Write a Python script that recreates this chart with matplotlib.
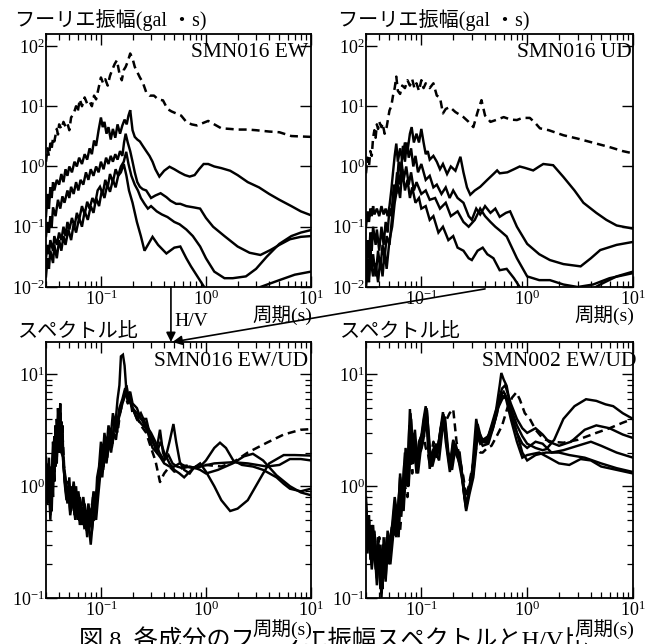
import matplotlib
matplotlib.use("Agg")
import matplotlib.pyplot as plt
from matplotlib.ticker import LogLocator, NullLocator, NullFormatter
from matplotlib.patches import ConnectionPatch

plt.rcParams['font.family'] = ['Liberation Serif', 'Noto Sans CJK JP']
plt.rcParams['mathtext.fontset'] = 'custom'
plt.rcParams['mathtext.rm'] = 'Liberation Serif'
plt.rcParams['mathtext.it'] = 'Liberation Serif:italic'
plt.rcParams['mathtext.bf'] = 'Liberation Serif:bold'
plt.rcParams['axes.unicode_minus'] = False

# ---------------- data: (period [s], value) ----------------
# SMN016 EW Fourier amplitude (gal*s)
tl_dash = [(0.030, 1.2), (0.031, 2.0), (0.032, 1.5), (0.033, 2.4), (0.034, 2.0), (0.035, 3.0), (0.036, 2.6),
           (0.038, 4.2), (0.039, 3.4), (0.040, 5.0), (0.042, 4.2), (0.044, 5.5), (0.046, 4.6), (0.048, 5.2),
           (0.050, 4.0), (0.052, 6.5), (0.055, 7.5), (0.058, 10), (0.060, 8), (0.063, 13), (0.066, 10),
           (0.070, 14), (0.074, 11), (0.078, 12), (0.082, 10), (0.086, 15), (0.090, 13), (0.095, 20),
           (0.100, 30), (0.105, 24), (0.110, 28), (0.116, 22), (0.122, 32), (0.128, 40), (0.135, 50),
           (0.142, 58), (0.150, 35), (0.158, 27), (0.165, 40), (0.172, 45), (0.180, 55), (0.190, 75),
           (0.200, 62), (0.210, 45), (0.220, 38), (0.235, 30), (0.250, 25), (0.270, 17), (0.290, 15),
           (0.320, 15), (0.350, 13), (0.390, 12.5), (0.430, 9), (0.470, 8.2), (0.520, 7.6), (0.580, 7.0),
           (0.650, 5.5), (0.730, 5.0), (0.820, 4.8), (0.920, 5.2), (1.05, 5.7), (1.2, 5.0), (1.4, 4.3),
           (1.7, 4.2), (2.0, 4.1), (2.5, 4.1), (3.0, 4.0), (4.0, 3.8), (5.0, 3.7), (6.5, 3.2), (8.0, 3.15),
           (10.0, 3.1)]
tl_s1 = [(0.030, 0.15), (0.031, 0.35), (0.032, 0.2), (0.033, 0.45), (0.034, 0.3), (0.035, 0.55), (0.036, 0.4),
         (0.038, 0.6), (0.040, 0.5), (0.042, 0.75), (0.044, 0.55), (0.046, 0.9), (0.048, 0.7), (0.050, 1.0),
         (0.053, 0.8), (0.056, 1.2), (0.059, 1.0), (0.062, 1.4), (0.066, 1.1), (0.070, 1.6), (0.074, 1.3),
         (0.078, 2.0), (0.082, 1.6), (0.086, 2.7), (0.090, 2.2), (0.095, 4.0), (0.100, 6.5), (0.104, 4.5),
         (0.108, 5.5), (0.113, 3.5), (0.118, 4.5), (0.124, 2.8), (0.130, 4.2), (0.137, 3.0), (0.144, 5.0),
         (0.152, 3.5), (0.160, 4.8), (0.168, 6.0), (0.176, 5.0), (0.183, 7.0), (0.190, 8.6), (0.200, 4.0),
         (0.210, 3.1), (0.222, 2.8), (0.235, 2.6), (0.25, 2.2), (0.27, 1.8), (0.29, 1.5), (0.31, 1.2),
         (0.33, 0.9), (0.36, 0.68), (0.40, 0.85), (0.45, 0.99), (0.50, 0.9), (0.56, 0.8), (0.63, 0.72),
         (0.70, 0.68), (0.78, 0.72), (0.86, 0.9), (0.95, 1.1), (1.05, 1.1), (1.2, 1.0), (1.4, 0.94),
         (1.7, 0.85), (2.0, 0.72), (2.5, 0.55), (3.2, 0.45), (4.0, 0.35), (5.0, 0.28), (6.5, 0.22),
         (8.0, 0.18), (10.0, 0.155)]
tl_s2 = [(0.030, 0.07), (0.031, 0.12), (0.032, 0.08), (0.033, 0.15), (0.034, 0.1), (0.035, 0.21), (0.037, 0.15),
         (0.039, 0.28), (0.041, 0.2), (0.043, 0.32), (0.045, 0.25), (0.048, 0.4), (0.050, 0.3), (0.052, 0.46),
         (0.055, 0.35), (0.058, 0.55), (0.061, 0.4), (0.064, 0.6), (0.068, 0.5), (0.072, 0.8), (0.076, 0.6),
         (0.080, 0.9), (0.085, 0.7), (0.090, 1.0), (0.095, 0.8), (0.100, 1.2), (0.106, 0.9), (0.112, 1.4),
         (0.118, 1.1), (0.124, 1.5), (0.130, 1.2), (0.137, 1.6), (0.144, 1.3), (0.152, 1.8), (0.160, 1.5),
         (0.166, 2.5), (0.172, 3.5), (0.180, 2.5), (0.190, 1.8), (0.200, 1.2), (0.210, 0.8), (0.222, 0.55),
         (0.235, 0.46), (0.25, 0.42), (0.27, 0.4), (0.30, 0.3), (0.33, 0.33), (0.37, 0.36), (0.42, 0.31),
         (0.46, 0.27), (0.52, 0.24), (0.57, 0.24), (0.65, 0.22), (0.76, 0.21), (0.88, 0.2), (1.0, 0.14),
         (1.17, 0.1), (1.5, 0.07), (2.0, 0.047), (2.6, 0.037), (3.3, 0.034), (4.1, 0.041), (5.0, 0.05),
         (6.3, 0.062), (8.0, 0.068), (10.0, 0.07)]
tl_s3 = [(0.030, 0.03), (0.031, 0.05), (0.032, 0.035), (0.033, 0.06), (0.035, 0.04), (0.036, 0.07),
         (0.038, 0.05), (0.040, 0.08), (0.042, 0.06), (0.044, 0.1), (0.046, 0.07), (0.048, 0.12), (0.050, 0.09),
         (0.053, 0.14), (0.056, 0.1), (0.059, 0.17), (0.062, 0.13), (0.066, 0.22), (0.070, 0.16), (0.074, 0.26),
         (0.078, 0.2), (0.083, 0.3), (0.088, 0.24), (0.093, 0.4), (0.098, 0.46), (0.104, 0.35), (0.110, 0.6),
         (0.116, 0.45), (0.122, 0.75), (0.130, 0.55), (0.138, 0.9), (0.146, 0.7), (0.155, 1.0), (0.165, 1.2),
         (0.174, 1.75), (0.183, 1.1), (0.195, 0.7), (0.21, 0.5), (0.225, 0.4), (0.24, 0.3), (0.26, 0.24),
         (0.28, 0.2), (0.30, 0.22), (0.34, 0.18), (0.38, 0.16), (0.43, 0.145), (0.50, 0.12), (0.56, 0.11),
         (0.65, 0.09), (0.75, 0.07), (0.88, 0.047), (1.0, 0.03), (1.2, 0.018), (1.5, 0.014), (1.8, 0.014),
         (2.4, 0.015), (3.0, 0.02), (3.8, 0.032), (5.0, 0.052), (6.5, 0.07), (8.0, 0.08), (10.0, 0.088)]
tl_s4 = [(0.030, 0.015), (0.031, 0.03), (0.032, 0.02), (0.033, 0.04), (0.035, 0.025), (0.036, 0.05),
         (0.038, 0.03), (0.040, 0.06), (0.042, 0.04), (0.044, 0.07), (0.046, 0.05), (0.049, 0.09), (0.052, 0.06),
         (0.055, 0.11), (0.058, 0.08), (0.062, 0.14), (0.066, 0.1), (0.070, 0.18), (0.075, 0.13), (0.080, 0.22),
         (0.085, 0.17), (0.090, 0.3), (0.096, 0.22), (0.102, 0.4), (0.108, 0.3), (0.115, 0.5), (0.122, 0.38),
         (0.130, 0.6), (0.138, 0.45), (0.146, 0.7), (0.155, 0.8), (0.165, 1.1), (0.175, 0.7), (0.185, 0.4),
         (0.20, 0.25), (0.22, 0.12), (0.24, 0.07), (0.26, 0.04), (0.28, 0.05), (0.31, 0.068), (0.35, 0.05),
         (0.42, 0.036), (0.50, 0.045), (0.57, 0.047), (0.65, 0.03), (0.72, 0.022), (0.85, 0.014), (1.0, 0.009),
         (1.2, 0.006), (2.0, 0.005), (3.0, 0.008), (3.3, 0.01), (5.0, 0.013), (7.0, 0.016), (10.0, 0.018)]

# SMN016 UD Fourier amplitude (gal*s)
tr_dash = [(0.030, 0.77), (0.031, 1.4), (0.032, 1.0), (0.033, 1.8), (0.034, 1.5), (0.035, 3.0), (0.036, 4.0),
           (0.037, 3.0), (0.038, 5.0), (0.039, 4.2), (0.040, 5.5), (0.042, 4.5), (0.043, 5.2), (0.045, 3.5),
           (0.047, 4.5), (0.050, 8.5), (0.052, 10), (0.054, 15), (0.056, 20), (0.058, 31), (0.060, 18),
           (0.063, 16), (0.066, 22), (0.070, 20), (0.074, 27), (0.078, 22), (0.082, 28), (0.086, 20), (0.090, 24),
           (0.095, 18), (0.100, 27), (0.105, 20), (0.110, 24), (0.120, 20), (0.130, 24), (0.140, 15), (0.150, 14),
           (0.160, 7.6), (0.170, 9), (0.186, 9.7), (0.21, 8), (0.25, 6.6), (0.28, 5.5), (0.31, 4.5), (0.34, 8),
           (0.37, 12.6), (0.40, 7), (0.45, 5.5), (0.52, 6), (0.60, 6.6), (0.70, 6), (0.80, 5.9), (0.90, 6.4),
           (1.06, 6.4), (1.2, 5.2), (1.32, 4.3), (1.6, 4.0), (2.2, 3.3), (3.0, 2.9), (4.5, 2.4), (6.0, 2.1),
           (8.0, 1.8), (10.0, 1.65)]
tr_s1 = [(0.030, 0.1), (0.031, 0.18), (0.032, 0.12), (0.033, 0.2), (0.034, 0.15), (0.035, 0.22), (0.036, 0.16),
         (0.038, 0.2), (0.040, 0.15), (0.042, 0.22), (0.044, 0.16), (0.046, 0.2), (0.048, 0.15), (0.050, 0.22),
         (0.052, 0.4), (0.054, 0.8), (0.056, 1.5), (0.058, 2.4), (0.060, 1.2), (0.063, 2.0), (0.066, 1.3),
         (0.070, 2.5), (0.074, 1.8), (0.078, 3.5), (0.081, 4.5), (0.085, 2.5), (0.090, 3.5), (0.095, 2.5),
         (0.100, 4.2), (0.105, 2.5), (0.110, 1.6), (0.115, 1.8), (0.120, 1.3), (0.130, 1.5), (0.140, 1.2),
         (0.150, 0.9), (0.160, 1.1), (0.175, 0.75), (0.19, 1.0), (0.21, 0.85), (0.234, 1.45), (0.25, 0.8),
         (0.27, 0.45), (0.29, 0.34), (0.32, 0.4), (0.36, 0.46), (0.42, 0.6), (0.48, 0.75), (0.52, 0.86),
         (0.55, 0.77), (0.65, 0.8), (0.75, 0.9), (0.85, 1.0), (0.95, 0.95), (1.14, 0.86), (1.3, 1.0),
         (1.42, 1.1), (1.76, 1.05), (2.2, 0.67), (2.8, 0.4), (3.4, 0.25), (4.5, 0.17), (5.6, 0.13),
         (7.0, 0.105), (10.0, 0.093)]
tr_s2 = [(0.030, 0.02), (0.031, 0.06), (0.032, 0.03), (0.033, 0.08), (0.034, 0.04), (0.035, 0.1), (0.037, 0.05),
         (0.038, 0.09), (0.040, 0.04), (0.042, 0.1), (0.044, 0.05), (0.046, 0.12), (0.048, 0.08), (0.050, 0.2),
         (0.052, 0.15), (0.055, 0.5), (0.058, 0.35), (0.061, 1.2), (0.064, 0.8), (0.067, 2.2), (0.070, 1.2),
         (0.073, 2.5), (0.076, 1.4), (0.080, 2.0), (0.084, 1.0), (0.088, 1.5), (0.093, 0.8), (0.100, 1.1),
         (0.110, 0.6), (0.120, 0.7), (0.130, 0.45), (0.140, 0.5), (0.155, 0.35), (0.170, 0.45), (0.185, 0.3),
         (0.20, 0.4), (0.22, 0.3), (0.25, 0.25), (0.28, 0.15), (0.30, 0.13), (0.33, 0.2), (0.36, 0.16),
         (0.40, 0.22), (0.45, 0.17), (0.50, 0.2), (0.55, 0.146), (0.63, 0.17), (0.69, 0.18), (0.80, 0.1),
         (1.0, 0.052), (1.3, 0.035), (1.64, 0.028), (2.2, 0.024), (3.2, 0.022), (4.0, 0.03), (4.9, 0.041),
         (7.0, 0.05), (10.0, 0.056)]
tr_s3 = [(0.030, 0.012), (0.031, 0.03), (0.032, 0.015), (0.033, 0.04), (0.034, 0.02), (0.035, 0.035),
         (0.037, 0.015), (0.039, 0.04), (0.041, 0.02), (0.043, 0.05), (0.045, 0.03), (0.047, 0.07), (0.050, 0.05),
         (0.053, 0.15), (0.056, 0.3), (0.059, 0.8), (0.062, 0.5), (0.065, 1.2), (0.068, 0.6), (0.072, 1.0),
         (0.076, 0.5), (0.080, 0.8), (0.085, 0.4), (0.090, 0.55), (0.100, 0.35), (0.110, 0.4), (0.120, 0.28),
         (0.135, 0.3), (0.150, 0.2), (0.170, 0.25), (0.19, 0.15), (0.22, 0.18), (0.25, 0.12), (0.28, 0.1),
         (0.32, 0.13), (0.36, 0.2), (0.40, 0.15), (0.45, 0.12), (0.50, 0.1), (0.55, 0.087), (0.64, 0.069),
         (0.80, 0.03), (1.0, 0.015), (1.3, 0.013), (1.64, 0.013), (2.2, 0.011), (3.0, 0.01), (4.2, 0.011),
         (6.0, 0.014), (10.0, 0.017)]
tr_s4 = [(0.030, 0.01), (0.031, 0.02), (0.032, 0.012), (0.033, 0.03), (0.035, 0.015), (0.037, 0.025),
         (0.039, 0.012), (0.041, 0.03), (0.043, 0.015), (0.045, 0.04), (0.047, 0.02), (0.050, 0.06), (0.053, 0.1),
         (0.056, 0.25), (0.060, 0.5), (0.063, 0.3), (0.066, 0.9), (0.070, 0.4), (0.074, 0.6), (0.078, 0.3),
         (0.082, 0.45), (0.088, 0.25), (0.095, 0.3), (0.100, 0.2), (0.110, 0.22), (0.120, 0.13), (0.130, 0.15),
         (0.145, 0.08), (0.160, 0.1), (0.180, 0.06), (0.20, 0.07), (0.22, 0.045), (0.25, 0.04), (0.28, 0.03),
         (0.30, 0.028), (0.34, 0.04), (0.38, 0.045), (0.42, 0.035), (0.48, 0.03), (0.55, 0.019), (0.64, 0.02),
         (0.75, 0.014), (0.85, 0.01), (1.0, 0.008), (2.0, 0.006), (4.0, 0.009), (4.9, 0.011), (7.0, 0.015),
         (10.0, 0.018)]

# SMN016 EW/UD spectral ratio
bl_dash = [(0.030, 1.4), (0.031, 0.8), (0.032, 1.6), (0.033, 0.7), (0.034, 1.3), (0.035, 2.0), (0.036, 1.2),
           (0.037, 3.0), (0.038, 1.8), (0.039, 4.0), (0.040, 2.6), (0.041, 4.8), (0.042, 2.2), (0.043, 3.0),
           (0.045, 1.3), (0.047, 0.9), (0.049, 1.1), (0.051, 0.6), (0.053, 0.9), (0.056, 0.6), (0.059, 0.8),
           (0.062, 0.5), (0.066, 0.7), (0.070, 0.4), (0.074, 0.6), (0.078, 0.45), (0.082, 0.7), (0.086, 0.5),
           (0.090, 0.8), (0.095, 1.1), (0.100, 2.0), (0.105, 1.5), (0.110, 2.6), (0.116, 2.0), (0.122, 3.0),
           (0.129, 2.4), (0.136, 3.8), (0.144, 3.0), (0.152, 4.5), (0.160, 5.5), (0.170, 6.5), (0.180, 5.5),
           (0.19, 6.0), (0.20, 4.5), (0.22, 4.2), (0.24, 3.5), (0.27, 3.0), (0.30, 2.2), (0.33, 1.7),
           (0.365, 1.09), (0.40, 1.3), (0.45, 1.5), (0.50, 1.35), (0.55, 1.4), (0.65, 1.53), (0.8, 1.45),
           (1.0, 1.55), (1.4, 1.5), (1.82, 1.64), (2.5, 2.0), (3.8, 2.45), (5.5, 2.9), (8.0, 3.2), (10.0, 3.24)]
bl_s1 = [(0.030, 1.8), (0.031, 1.0), (0.032, 1.5), (0.033, 0.55), (0.034, 1.2), (0.035, 2.5), (0.036, 1.5),
         (0.037, 3.5), (0.038, 2.0), (0.039, 5.0), (0.040, 3.0), (0.041, 5.5), (0.042, 2.5), (0.043, 3.5),
         (0.044, 1.5), (0.046, 1.0), (0.048, 0.7), (0.050, 1.2), (0.052, 0.6), (0.054, 0.9), (0.056, 0.55),
         (0.058, 1.0), (0.060, 0.6), (0.063, 0.8), (0.066, 0.5), (0.070, 0.7), (0.073, 0.4), (0.076, 0.65),
         (0.080, 0.45), (0.084, 0.8), (0.088, 0.55), (0.092, 1.2), (0.096, 1.5), (0.100, 2.5), (0.104, 1.8),
         (0.108, 3.0), (0.113, 2.2), (0.118, 3.5), (0.124, 2.8), (0.130, 4.5), (0.137, 3.5), (0.144, 6.0),
         (0.150, 8.0), (0.155, 14.5), (0.162, 15.0), (0.168, 12), (0.175, 7), (0.185, 6), (0.20, 5),
         (0.22, 4.5), (0.25, 3.8), (0.28, 3.0), (0.31, 2.2), (0.34, 2.0), (0.37, 2.5), (0.40, 2.0), (0.45, 1.6),
         (0.50, 1.4), (0.56, 1.3), (0.62, 1.2), (0.70, 1.35), (0.80, 1.5), (0.88, 1.5), (1.0, 1.7), (1.2, 2.2),
         (1.36, 2.45), (1.55, 2.2), (1.82, 1.7), (2.2, 1.55), (2.8, 1.5), (3.5, 1.4), (4.7, 1.2), (5.5, 1.05),
         (6.3, 0.95), (8.0, 0.9), (10.0, 0.95)]
bl_s2 = [(0.030, 1.2), (0.031, 0.7), (0.032, 1.8), (0.033, 0.9), (0.034, 1.5), (0.035, 0.8), (0.036, 2.2),
         (0.037, 1.5), (0.038, 4.0), (0.039, 2.5), (0.040, 4.5), (0.041, 3.0), (0.042, 3.8), (0.043, 2.0),
         (0.045, 1.2), (0.047, 0.8), (0.049, 1.0), (0.051, 0.65), (0.053, 1.0), (0.055, 0.7), (0.057, 0.85),
         (0.060, 0.5), (0.063, 0.7), (0.066, 0.45), (0.070, 0.6), (0.074, 0.35), (0.078, 0.55), (0.082, 0.4),
         (0.086, 0.6), (0.090, 0.5), (0.094, 0.8), (0.098, 1.2), (0.102, 2.0), (0.106, 1.5), (0.110, 2.5),
         (0.116, 2.0), (0.122, 3.2), (0.128, 2.5), (0.135, 4.0), (0.142, 3.5), (0.150, 5.0), (0.160, 6.0),
         (0.170, 7.5), (0.180, 6.5), (0.190, 7.0), (0.20, 5.5), (0.22, 5.0), (0.24, 4.0), (0.27, 4.0),
         (0.29, 3.0), (0.31, 2.5), (0.34, 2.15), (0.365, 3.2), (0.39, 2.0), (0.41, 1.75), (0.45, 2.5),
         (0.49, 3.6), (0.52, 2.5), (0.565, 1.64), (0.62, 1.4), (0.70, 1.3), (0.76, 1.45), (0.88, 1.6),
         (1.0, 1.35), (1.2, 1.0), (1.4, 0.75), (1.7, 0.6), (2.0, 0.63), (2.5, 0.75), (3.5, 1.3), (4.0, 1.6),
         (5.5, 1.9), (7.0, 1.9), (10.0, 1.88)]
bl_s3 = [(0.030, 1.0), (0.031, 1.6), (0.032, 0.8), (0.033, 1.3), (0.034, 0.6), (0.035, 1.6), (0.036, 2.8),
         (0.037, 1.8), (0.038, 3.2), (0.039, 2.2), (0.040, 4.0), (0.041, 2.4), (0.043, 2.8), (0.044, 1.6),
         (0.046, 1.2), (0.048, 0.8), (0.050, 1.0), (0.052, 0.7), (0.055, 1.1), (0.058, 0.7), (0.061, 0.9),
         (0.064, 0.6), (0.068, 0.8), (0.072, 0.5), (0.076, 0.7), (0.080, 0.5), (0.085, 0.9), (0.090, 0.7),
         (0.095, 1.3), (0.100, 1.8), (0.105, 1.4), (0.110, 2.2), (0.115, 1.8), (0.121, 2.8), (0.127, 2.2),
         (0.134, 3.5), (0.141, 3.0), (0.149, 4.2), (0.158, 5.2), (0.166, 6.5), (0.175, 8.0), (0.185, 6.0),
         (0.20, 5.0), (0.22, 4.0), (0.24, 4.5), (0.27, 3.5), (0.30, 3.0), (0.33, 2.5), (0.36, 2.0), (0.40, 1.7),
         (0.44, 1.9), (0.48, 1.6), (0.53, 1.5), (0.60, 1.45), (0.70, 1.5), (0.80, 1.45), (0.88, 1.4),
         (1.0, 1.3), (1.3, 1.4), (1.8, 1.6), (2.3, 1.85), (2.8, 1.95), (3.5, 1.7), (4.7, 1.25), (6.3, 1.0),
         (8.0, 0.88), (10.0, 0.83)]
bl_s4 = [(0.030, 1.5), (0.031, 0.9), (0.032, 1.2), (0.033, 0.5), (0.034, 1.0), (0.035, 1.8), (0.036, 1.1),
         (0.037, 2.6), (0.038, 1.6), (0.039, 3.5), (0.040, 2.0), (0.041, 3.8), (0.042, 2.0), (0.044, 1.8),
         (0.045, 1.1), (0.047, 0.75), (0.049, 0.9), (0.051, 0.55), (0.054, 0.8), (0.057, 0.5), (0.060, 0.75),
         (0.063, 0.45), (0.067, 0.65), (0.071, 0.42), (0.075, 0.55), (0.080, 0.3), (0.084, 0.5), (0.088, 0.7),
         (0.093, 1.0), (0.098, 1.6), (0.103, 1.2), (0.108, 2.0), (0.113, 1.6), (0.119, 2.5), (0.125, 2.0),
         (0.132, 3.0), (0.139, 2.6), (0.147, 4.0), (0.155, 5.0), (0.163, 6.0), (0.172, 7.0), (0.182, 5.5),
         (0.19, 6.5), (0.20, 5.0), (0.22, 4.0), (0.25, 3.5), (0.28, 3.2), (0.31, 2.6), (0.34, 2.0), (0.37, 1.8),
         (0.40, 1.6), (0.45, 1.5), (0.50, 1.5), (0.56, 1.6), (0.65, 1.5), (0.75, 1.45), (0.88, 1.5),
         (1.2, 1.6), (1.82, 1.64), (2.5, 1.6), (3.8, 1.5), (5.0, 1.55), (6.3, 1.75), (8.0, 1.75), (10.0, 1.7)]

# SMN002 EW/UD spectral ratio
br_dash = [(0.030, 0.6), (0.031, 0.35), (0.032, 0.5), (0.034, 0.25), (0.036, 0.4), (0.038, 0.2), (0.040, 0.35),
           (0.042, 0.2), (0.044, 0.3), (0.046, 0.2), (0.048, 0.35), (0.050, 0.3), (0.053, 0.45), (0.056, 0.35),
           (0.060, 0.5), (0.063, 0.4), (0.066, 0.7), (0.070, 1.0), (0.074, 0.8), (0.078, 2.0), (0.082, 1.3),
           (0.086, 2.5), (0.090, 1.5), (0.095, 2.2), (0.100, 2.5), (0.105, 3.0), (0.110, 2.2), (0.115, 2.0),
           (0.120, 1.6), (0.130, 2.5), (0.140, 2.0), (0.150, 2.8), (0.160, 3.2), (0.170, 3.8), (0.185, 4.5),
           (0.20, 4.9), (0.215, 2.5), (0.23, 1.8), (0.25, 1.2), (0.265, 0.8), (0.28, 1.0), (0.30, 1.4),
           (0.33, 2.2), (0.36, 2.0), (0.38, 2.0), (0.42, 2.2), (0.46, 2.3), (0.515, 2.8), (0.58, 3.5),
           (0.65, 5.0), (0.72, 6.2), (0.79, 6.9), (0.85, 6.0), (0.95, 4.5), (1.06, 4.0), (1.2, 3.2),
           (1.42, 2.65), (1.7, 2.5), (2.2, 2.45), (3.0, 2.6), (4.5, 3.0), (6.0, 3.3), (8.0, 3.7), (10.0, 4.0)]
br_s1 = [(0.030, 0.8), (0.031, 0.4), (0.032, 0.5), (0.033, 0.3), (0.034, 0.45), (0.035, 0.25), (0.036, 0.4),
         (0.038, 0.2), (0.040, 0.3), (0.042, 0.15), (0.043, 0.12), (0.044, 0.35), (0.046, 0.2), (0.048, 0.4),
         (0.050, 0.3), (0.053, 0.45), (0.056, 0.8), (0.060, 0.5), (0.063, 1.3), (0.066, 0.8), (0.070, 2.0),
         (0.074, 1.2), (0.078, 4.9), (0.082, 2.0), (0.086, 3.0), (0.090, 1.5), (0.095, 2.5), (0.100, 2.8),
         (0.105, 4.0), (0.110, 5.2), (0.115, 2.5), (0.120, 1.43), (0.130, 2.15), (0.140, 1.8), (0.150, 3.0),
         (0.160, 4.6), (0.170, 2.5), (0.186, 1.34), (0.20, 2.5), (0.215, 2.0), (0.23, 2.0), (0.25, 1.0),
         (0.265, 0.63), (0.28, 0.9), (0.30, 1.26), (0.33, 4.0), (0.36, 2.5), (0.41, 2.45), (0.46, 3.5),
         (0.51, 4.9), (0.55, 8.0), (0.57, 10.3), (0.60, 9.0), (0.64, 7.9), (0.70, 5.0), (0.80, 3.5),
         (0.90, 2.8), (1.0, 2.4), (1.2, 2.2), (1.4, 2.1), (1.52, 2.15), (1.8, 2.6), (2.2, 4.0), (2.8, 5.2),
         (3.6, 6.0), (4.5, 5.8), (5.5, 5.4), (6.5, 5.2), (8.0, 4.5), (10.0, 4.0)]
br_s2 = [(0.030, 0.6), (0.031, 0.3), (0.032, 0.45), (0.033, 0.22), (0.035, 0.4), (0.037, 0.18), (0.039, 0.3),
         (0.041, 0.12), (0.043, 0.25), (0.045, 0.15), (0.047, 0.3), (0.049, 0.2), (0.052, 0.35), (0.055, 0.5),
         (0.058, 0.35), (0.062, 0.9), (0.065, 0.6), (0.069, 1.6), (0.073, 1.0), (0.077, 3.5), (0.081, 1.6),
         (0.085, 2.5), (0.090, 1.3), (0.095, 2.0), (0.100, 2.2), (0.106, 3.5), (0.112, 4.5), (0.118, 2.0),
         (0.125, 1.6), (0.135, 2.0), (0.145, 2.4), (0.155, 3.6), (0.165, 4.0), (0.175, 2.2), (0.19, 1.5),
         (0.20, 2.2), (0.22, 1.8), (0.24, 1.4), (0.26, 0.7), (0.275, 0.8), (0.29, 1.1), (0.31, 1.6),
         (0.33, 3.0), (0.36, 2.4), (0.40, 2.6), (0.45, 3.0), (0.50, 4.0), (0.54, 6.0), (0.58, 7.5), (0.62, 8.0),
         (0.70, 5.5), (0.80, 4.0), (0.90, 3.3), (1.0, 3.0), (1.2, 3.3), (1.4, 2.9), (1.6, 2.5), (2.0, 2.3),
         (2.6, 2.5), (3.5, 3.2), (4.5, 3.5), (6.0, 3.3), (8.0, 2.9), (10.0, 2.7)]
br_s3 = [(0.030, 0.5), (0.031, 0.25), (0.032, 0.4), (0.034, 0.2), (0.036, 0.35), (0.038, 0.15), (0.040, 0.28),
         (0.042, 0.1), (0.044, 0.25), (0.046, 0.15), (0.048, 0.3), (0.051, 0.25), (0.054, 0.4), (0.057, 0.6),
         (0.061, 0.4), (0.064, 1.1), (0.068, 0.7), (0.072, 1.8), (0.076, 1.1), (0.080, 4.0), (0.084, 1.8),
         (0.088, 2.6), (0.093, 1.6), (0.098, 2.4), (0.103, 2.6), (0.108, 3.6), (0.113, 4.8), (0.119, 2.2),
         (0.127, 1.8), (0.137, 2.4), (0.147, 2.0), (0.157, 3.5), (0.167, 4.2), (0.18, 2.0), (0.195, 1.6),
         (0.21, 2.4), (0.225, 1.9), (0.245, 1.2), (0.265, 0.65), (0.285, 0.95), (0.31, 1.4), (0.34, 3.2),
         (0.38, 2.6), (0.43, 2.8), (0.48, 3.8), (0.53, 5.5), (0.58, 6.5), (0.64, 6.0), (0.70, 4.5),
         (0.80, 3.0), (0.90, 2.4), (1.0, 2.2), (1.2, 2.5), (1.4, 2.4), (1.7, 2.0), (2.2, 2.1), (3.0, 2.3),
         (4.0, 2.5), (5.0, 2.3), (7.0, 2.0), (10.0, 1.8)]
br_s4 = [(0.030, 0.7), (0.031, 0.35), (0.032, 0.55), (0.033, 0.25), (0.035, 0.45), (0.037, 0.2), (0.039, 0.35),
         (0.041, 0.15), (0.043, 0.3), (0.045, 0.18), (0.047, 0.35), (0.050, 0.25), (0.053, 0.4), (0.056, 0.7),
         (0.059, 0.45), (0.063, 1.2), (0.067, 0.7), (0.071, 2.2), (0.075, 1.3), (0.079, 4.5), (0.083, 2.2),
         (0.087, 3.2), (0.092, 1.6), (0.097, 2.6), (0.102, 3.0), (0.107, 4.2), (0.112, 5.0), (0.118, 2.8),
         (0.124, 1.5), (0.132, 2.3), (0.142, 1.9), (0.152, 3.2), (0.162, 4.4), (0.172, 2.6), (0.185, 1.5),
         (0.20, 2.6), (0.215, 2.1), (0.235, 1.6), (0.255, 0.8), (0.27, 0.7), (0.29, 1.0), (0.31, 1.3),
         (0.34, 3.6), (0.37, 2.6), (0.42, 2.5), (0.47, 3.2), (0.52, 4.5), (0.56, 6.5), (0.60, 7.0), (0.65, 6.0),
         (0.70, 4.5), (0.80, 3.0), (0.90, 2.0), (1.0, 1.7), (1.2, 1.9), (1.5, 2.0), (2.0, 2.0), (2.5, 1.9),
         (3.5, 1.8), (5.0, 1.6), (7.0, 1.45), (10.0, 1.34)]
br_s5 = [(0.030, 0.55), (0.031, 0.3), (0.032, 0.4), (0.034, 0.18), (0.036, 0.3), (0.038, 0.13), (0.040, 0.25),
         (0.042, 0.11), (0.044, 0.22), (0.046, 0.14), (0.048, 0.28), (0.051, 0.2), (0.054, 0.35), (0.057, 0.5),
         (0.061, 0.35), (0.064, 1.0), (0.068, 0.6), (0.072, 1.6), (0.076, 1.0), (0.080, 3.2), (0.084, 1.6),
         (0.088, 2.2), (0.093, 1.3), (0.098, 2.0), (0.103, 2.4), (0.108, 3.2), (0.113, 4.2), (0.119, 2.0),
         (0.127, 1.5), (0.137, 2.0), (0.147, 1.7), (0.157, 3.0), (0.167, 3.8), (0.18, 1.8), (0.195, 1.4),
         (0.21, 2.2), (0.225, 1.7), (0.245, 1.1), (0.265, 0.6), (0.285, 0.85), (0.31, 1.2), (0.34, 2.8),
         (0.38, 2.3), (0.43, 2.4), (0.48, 3.4), (0.53, 5.0), (0.58, 6.0), (0.62, 6.5), (0.70, 4.0),
         (0.80, 2.5), (0.90, 1.8), (1.0, 1.9), (1.3, 2.0), (1.6, 1.8), (2.0, 1.6), (2.5, 1.55), (3.2, 1.75),
         (4.0, 1.7), (5.0, 1.5), (7.0, 1.4), (10.0, 1.3)]

panels = [
    dict(rect=[46, 34, 265, 253], ylim=(0.01, 158), label="SMN016 EW", lx=0.99,
         dashed=tl_dash, solid=[tl_s1, tl_s2, tl_s3, tl_s4], yminor=False),
    dict(rect=[366, 34, 267, 253], ylim=(0.01, 158), label="SMN016 UD", lx=0.997,
         dashed=tr_dash, solid=[tr_s1, tr_s2, tr_s3, tr_s4], yminor=False),
    dict(rect=[46, 342, 265, 256], ylim=(0.1, 19.5), label="SMN016 EW/UD", lx=0.99,
         dashed=bl_dash, solid=[bl_s1, bl_s2, bl_s3, bl_s4], yminor=True),
    dict(rect=[366, 342, 267, 256], ylim=(0.1, 19.5), label="SMN002 EW/UD", lx=1.012,
         dashed=br_dash, solid=[br_s1, br_s2, br_s3, br_s4, br_s5], yminor=True),
]

W, H = 660, 644
fig = plt.figure(figsize=(W / 100, H / 100), dpi=100)

axes = []
for p in panels:
    x0, y0, w, h = p["rect"]
    ax = fig.add_axes([x0 / W, 1 - (y0 + h) / H, w / W, h / H])
    ax.set_xscale('log')
    ax.set_yscale('log')
    for s in p["solid"]:
        ax.plot([a for a, b in s], [b for a, b in s], color='black', lw=1.75, solid_joinstyle='miter')
    d = p["dashed"]
    ax.plot([a for a, b in d], [b for a, b in d], color='black', lw=1.8, linestyle=(0, (3.2, 2.0)))
    ax.set_xlim(0.03, 10)
    ax.set_ylim(*p["ylim"])
    ax.xaxis.set_major_locator(LogLocator(base=10, numticks=10))
    ax.xaxis.set_minor_locator(LogLocator(base=10, subs=range(2, 10), numticks=20))
    ax.xaxis.set_minor_formatter(NullFormatter())
    ax.yaxis.set_major_locator(LogLocator(base=10, numticks=10))
    if p["yminor"]:
        ax.yaxis.set_minor_locator(LogLocator(base=10, subs=range(2, 10), numticks=20))
    else:
        ax.yaxis.set_minor_locator(NullLocator())
    ax.yaxis.set_minor_formatter(NullFormatter())
    ax.tick_params(which='both', direction='in', top=True, right=True, labelsize=13, pad=2)
    ax.tick_params(which='major', length=8, width=1.0)
    ax.tick_params(which='minor', length=4, width=0.9)
    ax.tick_params(axis='y', pad=1)
    for sp in ax.spines.values():
        sp.set_linewidth(1.3)
    ax.text(p["lx"], 0.925, p["label"], transform=ax.transAxes, ha='right', va='center',
            fontsize=15.5, family='Liberation Serif')
    axes.append(ax)

ax_tl, ax_tr, ax_bl, ax_br = axes

# arrows from amplitude panels to H/V panel
con1 = ConnectionPatch(xyA=(0.464, 0.01), coordsA=ax_tl.transData,
                       xyB=(0.464, 19.5), coordsB=ax_bl.transData,
                       arrowstyle='-|>', mutation_scale=14, lw=1.2, color='black')
fig.add_artist(con1)
con2 = ConnectionPatch(xyA=(0.40, 0.0093), coordsA=ax_tr.transData,
                       xyB=(0.48, 19.5), coordsB=ax_bl.transData,
                       arrowstyle='-|>', mutation_scale=14, lw=1.2, color='black')
fig.add_artist(con2)

fam = ['Liberation Serif', 'Noto Sans CJK JP']
def ftext(xp, yp, s, **kw):
    fig.text(xp / W, 1 - yp / H, s, family=fam, **kw)

ftext(15, 20, "フーリエ振幅(gal ・s)", fontsize=14.5, ha='left', va='center')
ftext(338, 20, "フーリエ振幅(gal ・s)", fontsize=14.5, ha='left', va='center')
ftext(312, 315, "周期(s)", fontsize=14, ha='right', va='center')
ftext(634, 315, "周期(s)", fontsize=14, ha='right', va='center')
ftext(18, 333, "スペクトル比", fontsize=14.5, ha='left', va='center')
ftext(340, 333, "スペクトル比", fontsize=14.5, ha='left', va='center')
ftext(174, 321, "H/V", fontsize=14, ha='left', va='center')
ftext(333, 641, "図 8  各成分のフーリエ振幅スペクトルとH/V比", fontsize=17.5, ha='center', va='center')
ftext(312, 629, "周期(s)", fontsize=14, ha='right', va='center',
      bbox=dict(facecolor='white', edgecolor='none', pad=0.5))
ftext(634, 629, "周期(s)", fontsize=14, ha='right', va='center',
      bbox=dict(facecolor='white', edgecolor='none', pad=0.5))

fig.savefig("out.png", dpi=100)
